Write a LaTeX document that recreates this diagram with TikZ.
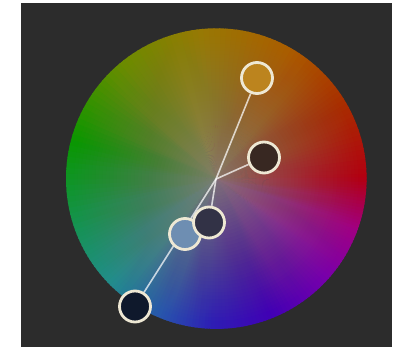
\documentclass[tikz,border=0pt]{standalone}
\pgfdeclarelayer{back}
\pgfdeclarelayer{lines}
\pgfsetlayers{back,lines,main}
\definecolor{bgdark}{RGB}{44,44,44}
\definecolor{gcol}{RGB}{136,126,118}
\definecolor{ring}{RGB}{238,232,212}
\definecolor{goldc}{RGB}{188,132,30}
\definecolor{brownd}{RGB}{56,40,34}
\definecolor{ltblue}{RGB}{110,142,178}
\definecolor{navyc}{RGB}{50,50,70}
\definecolor{botc}{RGB}{15,25,44}
\definecolor{k0}{RGB}{178,0,18}
\definecolor{k30}{RGB}{168,45,0}
\definecolor{k60}{RGB}{170,92,0}
\definecolor{k95}{RGB}{152,120,4}
\definecolor{k130}{RGB}{105,140,0}
\definecolor{k165}{RGB}{10,150,0}
\definecolor{k200}{RGB}{22,146,85}
\definecolor{k225}{RGB}{35,140,140}
\definecolor{k248}{RGB}{40,85,172}
\definecolor{k268}{RGB}{45,30,180}
\definecolor{k292}{RGB}{65,0,180}
\definecolor{k318}{RGB}{120,0,170}
\definecolor{k340}{RGB}{160,0,130}
\tikzset{
  dot/.style={circle, draw=ring, line width=2.8pt, minimum size=31pt, inner sep=0pt},
  link/.style={draw=white, draw opacity=0.72, line width=1.6pt}
}
\begin{document}
\begin{tikzpicture}[x=1pt,y=-1pt]
\useasboundingbox (0,0) rectangle (398,347);
\begin{pgfonlayer}{back}
\fill[white] (0,0) rectangle (398,347);
\fill[bgdark] (21,3) rectangle (392,347);
\begin{scope}[shift={(216.3,178.6)}, y=1pt]
  \foreach \a/\b/\ca/\cb in {0/30/k0/k30, 30/60/k30/k60, 60/95/k60/k95, 95/130/k95/k130, 130/165/k130/k165, 165/200/k165/k200, 200/225/k200/k225, 225/248/k225/k248, 248/268/k248/k268, 268/292/k268/k292, 292/318/k292/k318, 318/340/k318/k340, 340/360/k340/k0} {
    \foreach \i in {0,...,15} {
      \pgfmathtruncatemacro\t{\i*100/16 + 3}
      \pgfmathsetmacro\s{\a+(\b-\a)*\i/16}
      \pgfmathsetmacro\e{\a+(\b-\a)*(\i+1)/16+0.5}
      \fill[fill=\cb!\t!\ca] (0,0) -- (\s:150.3) arc[start angle=\s, end angle=\e, radius=150.3] -- cycle;
    }
  }
  \foreach \m in {1,...,40} {
    \pgfmathsetmacro\rr{142*(1-(\m-1)/40)}
    \pgfmathsetmacro\al{1-(1-0.9*\m/40)/(1-0.9*(\m-1)/40)}
    \fill[gcol, fill opacity=\al] (0,0) circle[radius=\rr];
  }
\end{scope}
\end{pgfonlayer}
\coordinate (J) at (216,179);
\node[dot, fill=goldc] (g) at (257,78) {};
\node[dot, fill=brownd] (br) at (264,157.5) {};
\node[dot, fill=ltblue] (lb) at (185,234) {};
\node[dot, fill=navyc] (nv) at (209,222.5) {};
\node[dot, fill=botc] (bt) at (135,306.5) {};
\begin{pgfonlayer}{lines}
\draw[link] (g) -- (J);
\draw[link] (br) -- (J);
\draw[link] (J) -- (nv);
\draw[link] (J) -- (bt);
\end{pgfonlayer}
\end{tikzpicture}
\end{document}
